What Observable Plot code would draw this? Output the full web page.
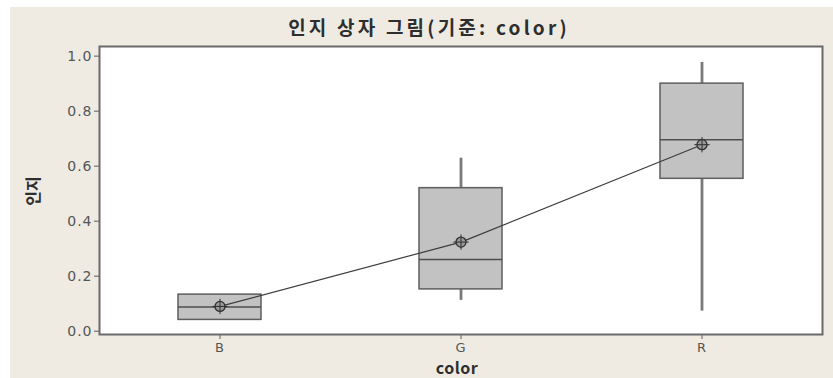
<!DOCTYPE html>
<html>
<head>
<meta charset="utf-8">
<script src="https://cdn.jsdelivr.net/npm/d3@7"></script>
<script src="https://cdn.jsdelivr.net/npm/@observablehq/plot@0.6"></script>
<style>
  html, body { margin: 0; padding: 0; background: #ffffff; width: 833px; height: 378px; overflow: hidden; }
  #bg { position: absolute; left: 10px; top: 7px; width: 823px; height: 371px; background: #efebe3; }
  #title { position: absolute; left: 179px; width: 500px; top: 15px; text-align: center;
           font-family: "Noto Sans CJK KR", sans-serif; font-weight: bold; font-size: 19px; letter-spacing: 3.2px; color: #2e2e2e; line-height: 24px; }
  #chart { position: absolute; left: 10px; top: 37px; }
  #xlabel { position: absolute; left: 357px; width: 200px; top: 359px; text-align: center;
            font-family: "Noto Sans CJK KR", "DejaVu Sans", sans-serif; font-weight: bold; font-size: 16px; letter-spacing: 0.5px; color: #2e2e2e; line-height: 17px; }
  #ylabel { position: absolute; left: 2px; top: 181px; width: 60px; text-align: center; transform: rotate(-90deg);
            font-family: "Noto Sans CJK KR", sans-serif; font-weight: bold; font-size: 16px; color: #2e2e2e; line-height: 20px; }
  #chart svg text { letter-spacing: 1px; }
</style>
</head>
<body>
<div id="bg"></div>
<div id="title">인지 상자 그림(기준: color)</div>
<div id="chart"></div>
<div id="xlabel">color</div>
<div id="ylabel">인지</div>
<script>
const categories = ["B", "G", "R"];
const q1 = [0.041, 0.152, 0.554];
const median = [0.088, 0.261, 0.696];
const q3 = [0.133, 0.52, 0.90];
const whiskerLow = [0.041, 0.112, 0.073];
const whiskerHigh = [0.133, 0.629, 0.977];
const means = [0.09, 0.324, 0.678];
const yTicks = [0, 0.2, 0.4, 0.6, 0.8, 1.0];

const rows = categories.map((c, i) => ({
  cat: c, q1: q1[i], med: median[i], q3: q3[i], lo: whiskerLow[i], hi: whiskerHigh[i], mean: means[i]
}));

const inset = 79;
const chart = Plot.plot({
  width: 823,
  height: 341,
  marginLeft: 89,
  marginRight: 11,
  marginTop: 9,
  marginBottom: 44,
  style: { background: "transparent", fontFamily: "DejaVu Sans, sans-serif" },
  x: { type: "band", domain: categories, padding: 0, label: null },
  y: { domain: [-0.012, 1.035], label: null },
  marks: [
    Plot.frame({ fill: "white", stroke: "none" }),
    Plot.ruleX(rows.filter(d => d.hi > d.q3), { x: "cat", y1: "q3", y2: "hi", stroke: "#7a7a7a", strokeWidth: 2.8 }),
    Plot.ruleX(rows.filter(d => d.lo < d.q1), { x: "cat", y1: "lo", y2: "q1", stroke: "#7a7a7a", strokeWidth: 2.8 }),
    Plot.barY(rows, { x: "cat", y1: "q1", y2: "q3", fill: "#c2c2c2", stroke: "#5e5e5e", strokeWidth: 1.5, insetLeft: inset, insetRight: inset }),
    Plot.tickY(rows, { x: "cat", y: "med", stroke: "#4e4e4e", strokeWidth: 1.5, insetLeft: inset, insetRight: inset }),
    Plot.line(rows, { x: "cat", y: "mean", stroke: "#3c3c3c", strokeWidth: 1.2 }),
    Plot.dot(rows, { x: "cat", y: "mean", r: 5, fill: "#9a9a9a", stroke: "#2e2e2e", strokeWidth: 1.3 }),
    Plot.dot(rows, { x: "cat", y: "mean", r: 5, symbol: "plus", stroke: "#2e2e2e", strokeWidth: 1 }),
    Plot.axisY({ ticks: yTicks, tickFormat: d3.format(".1f"), tickSize: 5, tickPadding: 2, fontSize: 14, stroke: "#5a5a5a", fill: "#555555", label: null }),
    Plot.axisX({ tickSize: 5, tickPadding: 3, fontSize: 13, stroke: "#5a5a5a", fill: "#555555", label: null }),
    Plot.frame({ stroke: "#6a6a6a", strokeWidth: 2 })
  ]
});
document.getElementById("chart").appendChild(chart);
</script>
</body>
</html>
